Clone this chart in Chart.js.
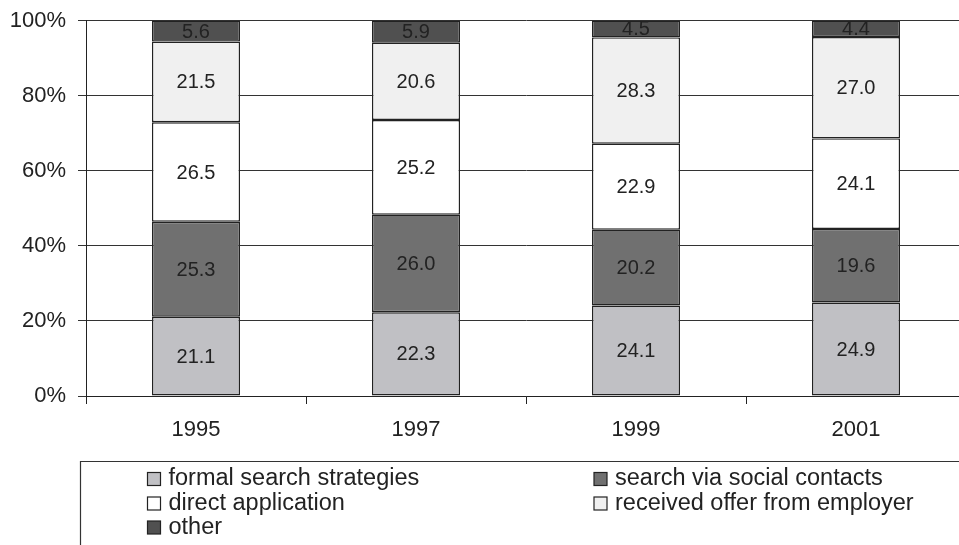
<!DOCTYPE html>
<html>
<head>
<meta charset="utf-8">
<script src="https://cdn.jsdelivr.net/npm/chart.js@4"></script>
<style>
  html, body { margin: 0; padding: 0; background: #fff; overflow: hidden; }
  #wrap { width: 959px; height: 545px; overflow: hidden; position: relative; }
  canvas { display: block; }
</style>
</head>
<body>
<div id="wrap"><canvas id="c" width="967" height="545"></canvas></div>
<script>
// Survey years
const years = ['1995', '1997', '1999', '2001'];

// Share of each job-finding channel (percent)
const formalSearch   = [21.1, 22.3, 24.1, 24.9];
const socialContacts = [25.3, 26.0, 20.2, 19.6];
const directApp      = [26.5, 25.2, 22.9, 24.1];
const employerOffer  = [21.5, 20.6, 28.3, 27.0];
const otherWays      = [5.6, 5.9, 4.5, 4.4];

// Value axis ticks
const yTicks = [0, 20, 40, 60, 80, 100];

const FONT = '"Liberation Sans", Arial, sans-serif';
const INK = '#222';

function series(label, data, color) {
  return {
    label, data,
    backgroundColor: color,
    borderColor: INK,
    borderWidth: 1.4,
    borderSkipped: false,
    barPercentage: 0.4,
    categoryPercentage: 1.0
  };
}

// Value written in the middle of every segment
const segmentLabels = {
  id: 'segmentLabels',
  afterDatasetsDraw(chart) {
    const { ctx, chartArea } = chart;
    ctx.save();
    ctx.beginPath();
    ctx.rect(chartArea.left, chartArea.top, chartArea.right - chartArea.left, chartArea.bottom - chartArea.top);
    ctx.clip();
    ctx.font = '20px ' + FONT;
    ctx.fillStyle = INK;
    ctx.textAlign = 'center';
    ctx.textBaseline = 'middle';
    chart.data.datasets.forEach((ds, i) => {
      chart.getDatasetMeta(i).data.forEach((bar, j) => {
        const { x, y, base } = bar.getProps(['x', 'y', 'base'], true);
        ctx.fillText(ds.data[j].toFixed(1), x, (y + base) / 2 + 1);
      });
    });
    ctx.restore();
  }
};

// Boxed two-column legend under the plot
const boxLegend = {
  id: 'boxLegend',
  afterDraw(chart) {
    const { ctx } = chart;
    const colX = [147.5, 594];
    const rowY = [479, 503.5, 527.5];
    ctx.save();
    ctx.strokeStyle = '#333';
    ctx.lineWidth = 1.2;
    ctx.beginPath();
    ctx.moveTo(80.5, 545);
    ctx.lineTo(80.5, 461.5);
    ctx.lineTo(chart.width, 461.5);
    ctx.stroke();
    ctx.font = '23.5px ' + FONT;
    ctx.textBaseline = 'middle';
    ctx.textAlign = 'left';
    chart.data.datasets.forEach((ds, i) => {
      const x = colX[i % 2];
      const y = rowY[Math.floor(i / 2)];
      ctx.fillStyle = ds.backgroundColor;
      ctx.fillRect(x, y - 6.5, 13, 13);
      ctx.strokeStyle = INK;
      ctx.lineWidth = 1.2;
      ctx.strokeRect(x, y - 6.5, 13, 13);
      ctx.fillStyle = INK;
      ctx.fillText(ds.label, x + 21, y);
    });
    ctx.restore();
  }
};

new Chart(document.getElementById('c'), {
  type: 'bar',
  data: {
    labels: years,
    datasets: [
      series('formal search strategies', formalSearch, '#c0c0c4'),
      series('search via social contacts', socialContacts, '#707070'),
      series('direct application', directApp, '#ffffff'),
      series('received offer from employer', employerOffer, '#f0f0f0'),
      series('other', otherWays, '#505050')
    ]
  },
  options: {
    responsive: false,
    devicePixelRatio: 1,
    animation: false,
    layout: { padding: { top: 20.5, right: 1, bottom: 89, left: 0 } },
    plugins: {
      legend: { display: false },
      tooltip: { enabled: false }
    },
    scales: {
      x: {
        stacked: true,
        grid: { display: true, drawOnChartArea: false, offset: true, tickLength: 8, color: INK, lineWidth: 1 },
        border: { display: true, color: INK, width: 1 },
        ticks: { color: INK, font: { family: FONT, size: 22 }, padding: 13 },
        afterFit(scale) { scale.height = 60; }
      },
      y: {
        stacked: true,
        min: 0,
        max: 100,
        afterBuildTicks(scale) { scale.ticks = yTicks.map(v => ({ value: v })); },
        grid: { color: '#333', lineWidth: 1, tickLength: 8 },
        border: { display: true, color: INK, width: 1 },
        ticks: { color: INK, font: { family: FONT, size: 22, lineHeight: 0.2 }, padding: 12, callback: v => v + '%' },
        afterFit(scale) { scale.width = 86; scale.paddingTop = 0; scale.paddingBottom = 0; }
      }
    }
  },
  plugins: [segmentLabels, boxLegend]
});
</script>
</body>
</html>
